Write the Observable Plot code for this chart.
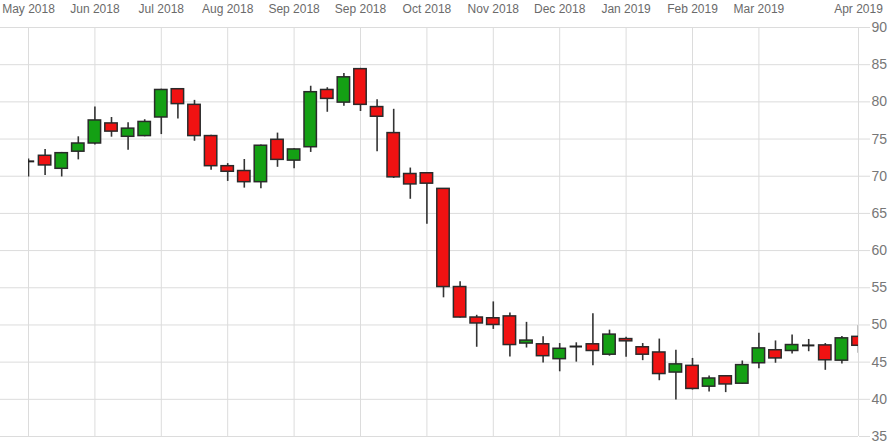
<!DOCTYPE html>
<html>
<head>
<meta charset="utf-8">
<script src="https://cdn.jsdelivr.net/npm/d3@7"></script>
<script src="https://cdn.jsdelivr.net/npm/@observablehq/plot@0.6"></script>
<style>
  html, body { margin: 0; padding: 0; background: #fff; }
  #chart svg { display: block; }
</style>
</head>
<body>
<div id="chart"></div>
<script>
// Weekly candles (index 0 .. 50)
const opens  = [72.0, 72.75, 71.0, 73.3, 74.4, 77.1, 75.3, 75.4, 77.9, 81.7,
                79.6, 75.4, 71.35, 70.7, 69.2, 74.9, 72.1, 73.9, 81.6, 79.9,
                84.4, 79.3, 75.8, 70.3, 70.4, 68.3, 55.1, 51.0, 50.9, 51.15,
                47.5, 47.4, 45.4, 47.1, 47.4, 46.0, 48.1, 47.0, 46.3, 43.6,
                44.5, 41.7, 43.1, 42.1, 44.85, 46.6, 46.5, 47.25, 47.25, 45.2,
                48.4];
const highs  = [72.3, 73.6, 73.2, 75.3, 79.3, 77.9, 77.2, 77.6, 81.7, 81.8,
                80.2, 75.5, 71.7, 72.25, 74.2, 75.8, 73.7, 82.1, 81.9, 83.8,
                84.5, 80.3, 79.0, 71.1, 70.45, 68.3, 55.8, 51.3, 53.1, 51.6,
                50.35, 48.4, 47.5, 47.6, 51.5, 49.3, 48.35, 47.5, 48.1, 46.6,
                45.5, 43.15, 43.2, 45.15, 48.9, 47.85, 48.65, 48.05, 47.5, 48.45,
                49.9];
const lows   = [69.9, 70.1, 69.9, 72.2, 74.2, 75.25, 73.5, 75.3, 75.6, 77.7,
                74.7, 70.8, 69.3, 68.4, 68.3, 71.2, 71.0, 73.2, 78.6, 79.4,
                78.7, 73.3, 69.7, 66.9, 63.55, 53.65, 50.95, 47.0, 49.4, 45.7,
                46.9, 44.9, 43.7, 45.0, 44.5, 45.8, 45.65, 45.2, 42.5, 39.9,
                41.25, 41.0, 40.9, 42.0, 44.1, 44.85, 46.1, 46.4, 43.9, 44.75,
                46.2];
const closes = [72.0, 71.45, 73.1, 74.4, 77.5, 76.0, 76.4, 77.3, 81.6, 79.7,
                75.4, 71.35, 70.6, 69.2, 74.1, 72.2, 73.6, 81.3, 80.4, 83.3,
                79.6, 78.0, 69.85, 68.9, 69.0, 55.1, 51.0, 50.2, 50.0, 47.3,
                47.9, 45.8, 46.8, 47.1, 46.5, 48.7, 47.8, 46.0, 43.4, 44.7,
                41.4, 42.8, 42.0, 44.6, 46.85, 45.5, 47.3, 47.25, 45.25, 48.2,
                47.2];

const xTickIdx    = [0, 4, 8, 12, 16, 20, 24, 28, 32, 36, 40, 44, 50];
const xTickLabels = ["May 2018", "Jun 2018", "Jul 2018", "Aug 2018", "Sep 2018", "Sep 2018",
                     "Oct 2018", "Nov 2018", "Dec 2018", "Jan 2019", "Feb 2019", "Mar 2019", "Apr 2019"];
const yTicks      = [35, 40, 45, 50, 55, 60, 65, 70, 75, 80, 85, 90];

const candles = opens.map((o, i) => ({i, open: o, high: highs[i], low: lows[i], close: closes[i]}));

const GREEN = "#14a014";
const RED = "#f01212";
const GRID = "#dcdcdc";

const chart = Plot.plot({
  width: 894,
  height: 445,
  marginTop: 27,
  marginBottom: 9,
  marginLeft: 28,
  marginRight: 36,
  style: {fontFamily: "'Liberation Sans', Arial, sans-serif", background: "#fff"},
  x: {type: "linear", domain: [0, 50], label: null},
  y: {domain: [35, 90], label: null},
  marks: [
    Plot.gridY(yTicks, {stroke: GRID, strokeOpacity: 1, insetLeft: -28}),
    Plot.gridX(xTickIdx, {stroke: GRID, strokeOpacity: 1}),
    Plot.axisX(xTickIdx, {
      anchor: "top", label: null, tickSize: 0, tickPadding: 15, fontSize: 12, fill: "#6a6a6a",
      tickFormat: d => xTickLabels[xTickIdx.indexOf(d)]
    }),
    Plot.axisY(yTicks, {
      anchor: "right", label: null, tickSize: 11, tickPadding: 2, stroke: GRID, strokeOpacity: 1,
      fontSize: 14, fill: "#777", tickFormat: d => String(d)
    }),
    Plot.ruleX(candles, {x: "i", y1: "low", y2: "high", stroke: "#333", strokeWidth: 1.6, clip: true}),
    Plot.rect(candles, {
      filter: d => d.open !== d.close,
      x1: d => d.i - 0.5, x2: d => d.i + 0.5, insetLeft: 2.1, insetRight: 2.1,
      y1: "open", y2: "close",
      fill: d => d.close > d.open ? GREEN : RED,
      stroke: "#2a2a2a", strokeWidth: 1.5, clip: true
    }),
    Plot.ruleY(candles, {
      filter: d => d.open === d.close,
      y: "open", x1: d => d.i - 0.5, x2: d => d.i + 0.5, insetLeft: 2.1, insetRight: 2.1,
      stroke: "#222", strokeWidth: 2, clip: true
    })
  ]
});
document.getElementById("chart").appendChild(chart);
</script>
</body>
</html>
